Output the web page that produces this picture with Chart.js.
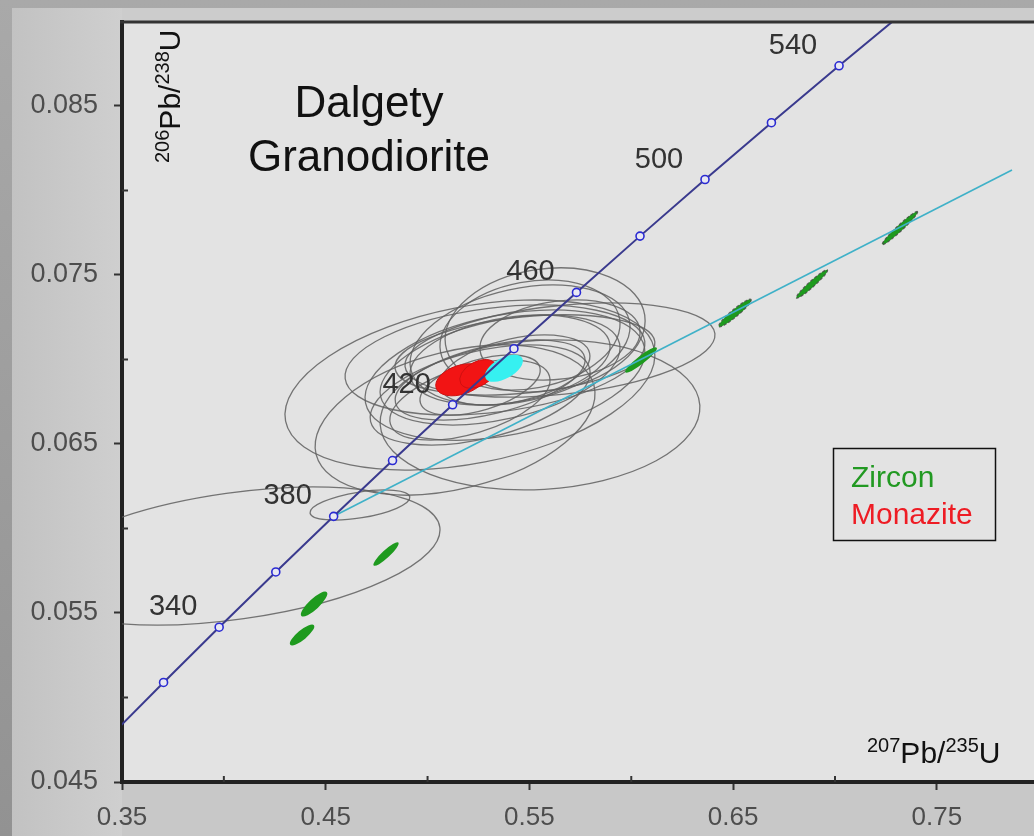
<!DOCTYPE html>
<html>
<head>
<meta charset="utf-8">
<script src="https://cdn.jsdelivr.net/npm/chart.js@4.4.1/dist/chart.umd.min.js"></script>
<style>
  html, body { margin: 0; padding: 0; background: #aaa; }
  #wrap { width: 1034px; height: 836px; }
</style>
</head>
<body>
<div id="wrap"><canvas id="concordia" width="1034" height="836"></canvas></div>
<script>
// concordia curve, one point every 20 Ma
const concordiaAge = [300, 320, 340, 360, 380, 400, 420, 440, 460, 480, 500, 520, 540, 560];
const concordiaX = [0.3437, 0.3704, 0.3977, 0.4255, 0.4539, 0.4828, 0.5123, 0.5424, 0.5731, 0.6043, 0.6362, 0.6688, 0.7020, 0.7358];
const concordiaY = [0.04764, 0.05089, 0.05416, 0.05743, 0.06072, 0.06402, 0.06732, 0.07064, 0.07397, 0.07730, 0.08065, 0.08401, 0.08738, 0.09075];
const ageLabels = [340, 380, 420, 460, 500, 540];

// discordia through the zircons
const discordiaX = [0.4539, 0.7869];
const discordiaY = [0.06072, 0.08121];

// grey error ellipses (centre, half widths, rho)
const grayX = [0.4055, 0.4668, 0.5208, 0.5650, 0.5552, 0.5135, 0.5356, 0.5405, 0.5454, 0.5307, 0.5503, 0.5258, 0.5577, 0.5380, 0.5208, 0.5478, 0.5429, 0.5331, 0.5650, 0.5258];
const grayY = [0.05837, 0.06139, 0.06849, 0.07056, 0.06672, 0.06642, 0.06938, 0.06997, 0.07086, 0.06879, 0.07145, 0.06790, 0.07175, 0.06908, 0.06760, 0.07027, 0.06938, 0.06997, 0.07115, 0.06849];
const graySx = [0.1006, 0.0245, 0.0908, 0.0761, 0.0785, 0.0687, 0.0589, 0.0491, 0.0540, 0.0466, 0.0442, 0.0540, 0.0491, 0.0687, 0.0393, 0.0638, 0.0368, 0.0736, 0.0393, 0.0295];
const graySy = [0.00408, 0.00089, 0.00503, 0.00278, 0.00444, 0.00444, 0.00325, 0.00266, 0.00355, 0.00237, 0.00325, 0.00296, 0.00367, 0.00385, 0.00237, 0.00237, 0.00207, 0.00325, 0.00237, 0.00178];
const grayRho = [0.38, 0.5, 0.35, 0.32, 0.1, 0.35, 0.4, 0.3, 0.3, 0.5, 0.2, 0.45, 0.15, 0.35, 0.5, 0.3, 0.4, 0.3, 0.2, 0.5];

// monazite (red) and the cyan one
const monaziteX = [0.5164, 0.5248];
const monaziteY = [0.06880, 0.06915];
const monaziteSx = [0.0124, 0.0090];
const monaziteSy = [0.00095, 0.00085];
const monaziteRho = [0.35, 0.4];
const cyanX = [0.5375];
const cyanY = [0.06948];
const cyanSx = [0.0093];
const cyanSy = [0.00080];
const cyanRho = [0.55];

// zircons (green)
const zirconX = [0.4384, 0.4443, 0.4796, 0.6048, 0.6509, 0.6887, 0.7319];
const zirconY = [0.05370, 0.05553, 0.05849, 0.06997, 0.07275, 0.07447, 0.07778];
const zirconSx = [0.0060, 0.0065, 0.0062, 0.0078, 0.0080, 0.0077, 0.0087];
const zirconSy = [0.00062, 0.00074, 0.00070, 0.00075, 0.00082, 0.00084, 0.00098];
const zirconRho = [0.82, 0.83, 0.9, 0.92, 0.94, 0.96, 0.97];

const xTicks = [0.35, 0.45, 0.55, 0.65, 0.75];
const xMinor = [0.40, 0.50, 0.60, 0.70];
const yTicks = [0.045, 0.055, 0.065, 0.075, 0.085];
const yMinor = [0.050, 0.060, 0.070, 0.080];

const FONT = '"Liberation Sans", Arial, sans-serif';

function ellipsePath(ctx, xs, ys, cx, cy, sx, sy, rho) {
    const px = xs.getPixelForValue(cx);
    const py = ys.getPixelForValue(cy);
    const kx = Math.abs(xs.getPixelForValue(cx + sx) - px);
    const ky = Math.abs(ys.getPixelForValue(cy + sy) - py);
    const c = -rho * kx * ky; // pixel y runs downwards
    const a2 = kx * kx, b2 = ky * ky;
    const mid = (a2 + b2) / 2;
    const d = Math.sqrt(((a2 - b2) / 2) ** 2 + c * c);
    const r1 = Math.sqrt(mid + d);
    const r2 = Math.sqrt(Math.max(mid - d, 0.5));
    const th = 0.5 * Math.atan2(2 * c, a2 - b2);
    ctx.beginPath();
    ctx.ellipse(px, py, r1, r2, th, 0, Math.PI * 2);
}

const framePlugin = {
    id: 'frame',
    beforeDraw(chart) {
        const { ctx, chartArea: a } = chart;
        ctx.save();
        const s = ctx.createLinearGradient(0, 0, 0, chart.height);
        s.addColorStop(0, '#a9a9a9');
        s.addColorStop(1, '#929292');
        ctx.fillStyle = s;
        ctx.fillRect(0, 0, chart.width, chart.height);
        const g = ctx.createLinearGradient(12, 0, a.left, 0);
        g.addColorStop(0, '#c2c2c2');
        g.addColorStop(1, '#cfcfcf');
        ctx.fillStyle = g;
        ctx.fillRect(12, 8, a.left - 12, chart.height - 8);
        ctx.fillStyle = '#cccccc';
        ctx.fillRect(a.left, 8, chart.width - a.left, a.top - 8);
        ctx.fillStyle = '#c8c8c8';
        ctx.fillRect(a.left, a.bottom, chart.width - a.left, chart.height - a.bottom);
        ctx.fillStyle = '#e3e3e3';
        ctx.fillRect(a.left, a.top, a.right - a.left, a.bottom - a.top);
        ctx.restore();
    },
    beforeDatasetsDraw(chart) {
        const { ctx, chartArea: a } = chart;
        const xs = chart.scales.x, ys = chart.scales.y;
        ctx.save();
        ctx.beginPath();
        ctx.rect(a.left, a.top, a.right - a.left, a.bottom - a.top);
        ctx.clip();

        ctx.strokeStyle = 'rgba(95, 95, 95, 0.85)';
        ctx.lineWidth = 1.3;
        grayX.forEach((x, i) => {
            ellipsePath(ctx, xs, ys, x, grayY[i], graySx[i], graySy[i], grayRho[i]);
            ctx.stroke();
        });

        ctx.fillStyle = '#f21414';
        ctx.strokeStyle = '#d01010';
        ctx.lineWidth = 1;
        monaziteX.forEach((x, i) => {
            ellipsePath(ctx, xs, ys, x, monaziteY[i], monaziteSx[i], monaziteSy[i], monaziteRho[i]);
            ctx.fill();
            ctx.stroke();
        });

        ctx.fillStyle = '#36f0f0';
        cyanX.forEach((x, i) => {
            ellipsePath(ctx, xs, ys, x, cyanY[i], cyanSx[i], cyanSy[i], cyanRho[i]);
            ctx.fill();
        });

        zirconX.forEach((x, i) => {
            ellipsePath(ctx, xs, ys, x, zirconY[i], zirconSx[i], zirconSy[i], zirconRho[i]);
            ctx.fillStyle = '#1e9a1e';
            ctx.fill();
            if (x > 0.64) {
                ctx.strokeStyle = 'rgba(70, 70, 70, 0.8)';
                ctx.lineWidth = 1.2;
                ctx.setLineDash([3, 2]);
                ctx.stroke();
                ctx.setLineDash([]);
            }
        });
        ctx.restore();
    },
    afterDraw(chart) {
        const { ctx, chartArea: a } = chart;
        const xs = chart.scales.x, ys = chart.scales.y;
        ctx.save();

        // top border of the plot box
        ctx.strokeStyle = '#333';
        ctx.lineWidth = 3;
        ctx.beginPath();
        ctx.moveTo(a.left - 2, a.top);
        ctx.lineTo(a.right, a.top);
        ctx.stroke();

        // minor ticks, pointing inwards
        ctx.lineWidth = 2;
        xMinor.forEach(v => {
            const px = xs.getPixelForValue(v);
            ctx.beginPath(); ctx.moveTo(px, a.bottom); ctx.lineTo(px, a.bottom - 6); ctx.stroke();
        });
        yMinor.forEach(v => {
            const py = ys.getPixelForValue(v);
            ctx.beginPath(); ctx.moveTo(a.left, py); ctx.lineTo(a.left + 6, py); ctx.stroke();
        });

        // age labels on the concordia
        ctx.fillStyle = '#333';
        ctx.font = '29px ' + FONT;
        ctx.textAlign = 'center';
        ctx.textBaseline = 'middle';
        ageLabels.forEach(age => {
            const i = concordiaAge.indexOf(age);
            const px = xs.getPixelForValue(concordiaX[i]);
            const py = ys.getPixelForValue(concordiaY[i]);
            ctx.fillText(String(age), px - 46, py - 20);
        });

        // title
        ctx.fillStyle = '#111';
        ctx.textBaseline = 'alphabetic';
        ctx.font = '44px ' + FONT;
        ctx.fillText('Dalgety', 369, 117);
        ctx.fillText('Granodiorite', 369, 171);

        // axis titles
        const ratio = (parts, x, y) => {
            let cx = x;
            ctx.textAlign = 'left';
            parts.forEach(([t, big]) => {
                ctx.font = (big ? '30px ' : '20px ') + FONT;
                ctx.fillText(t, cx, big ? y : y - 11);
                cx += ctx.measureText(t).width;
            });
        };
        ctx.fillStyle = '#111';
        ratio([['207', false], ['Pb/', true], ['235', false], ['U', true]], 867, 763);
        ctx.save();
        ctx.translate(180, 163);
        ctx.rotate(-Math.PI / 2);
        ratio([['206', false], ['Pb/', true], ['238', false], ['U', true]], 0, 0);
        ctx.restore();

        // legend box
        ctx.strokeStyle = '#111';
        ctx.lineWidth = 1.5;
        ctx.strokeRect(833.5, 448.5, 162, 92);
        ctx.textAlign = 'left';
        ctx.font = '30px ' + FONT;
        ctx.fillStyle = '#229922';
        ctx.fillText('Zircon', 851, 487);
        ctx.fillStyle = '#ee1c24';
        ctx.fillText('Monazite', 851, 524);

        ctx.restore();
    }
};

new Chart(document.getElementById('concordia'), {
    type: 'scatter',
    data: {
        datasets: [
            {
                label: 'concordia',
                data: concordiaX.map((x, i) => ({ x, y: concordiaY[i] })),
                showLine: true,
                borderColor: '#3a3a8e',
                borderWidth: 2,
                pointRadius: ctx => (ctx.dataIndex === 0 || ctx.dataIndex === concordiaX.length - 1) ? 0 : 4,
                pointBorderColor: '#2a2ad2',
                pointBackgroundColor: '#e8e8f2',
                pointBorderWidth: 1.6,
                order: 1
            },
            {
                label: 'discordia',
                data: discordiaX.map((x, i) => ({ x, y: discordiaY[i] })),
                showLine: true,
                borderColor: '#3fb1c8',
                borderWidth: 1.6,
                pointRadius: 0,
                order: 2
            }
        ]
    },
    options: {
        responsive: false,
        animation: false,
        layout: { padding: { top: 22, left: 0, right: 0, bottom: 0 } },
        plugins: {
            legend: { display: false },
            tooltip: { enabled: false }
        },
        scales: {
            x: {
                type: 'linear',
                min: 0.35,
                max: 0.7977,
                afterBuildTicks: s => { s.ticks = xTicks.map(v => ({ value: v })); },
                afterFit: s => { s.height = 54; s.paddingLeft = 0; s.paddingRight = 0; },
                ticks: {
                    callback: v => v.toFixed(2),
                    font: { family: FONT, size: 26 },
                    color: '#4d4d4d',
                    padding: 12,
                    maxRotation: 0,
                    autoSkip: false
                },
                grid: { drawOnChartArea: false, tickLength: 8, tickColor: '#333', tickWidth: 2 },
                border: { color: '#222', width: 4 }
            },
            y: {
                type: 'linear',
                min: 0.045,
                max: 0.08997,
                afterBuildTicks: s => { s.ticks = yTicks.map(v => ({ value: v })); },
                afterFit: s => { s.width = 122; s.paddingTop = 0; s.paddingBottom = 0; },
                ticks: {
                    callback: v => v.toFixed(3),
                    font: { family: FONT, size: 27 },
                    color: '#4d4d4d',
                    padding: 16,
                    autoSkip: false
                },
                grid: { drawOnChartArea: false, tickLength: 8, tickColor: '#333', tickWidth: 2 },
                border: { color: '#222', width: 4 }
            }
        }
    },
    plugins: [framePlugin]
});
</script>
</body>
</html>
